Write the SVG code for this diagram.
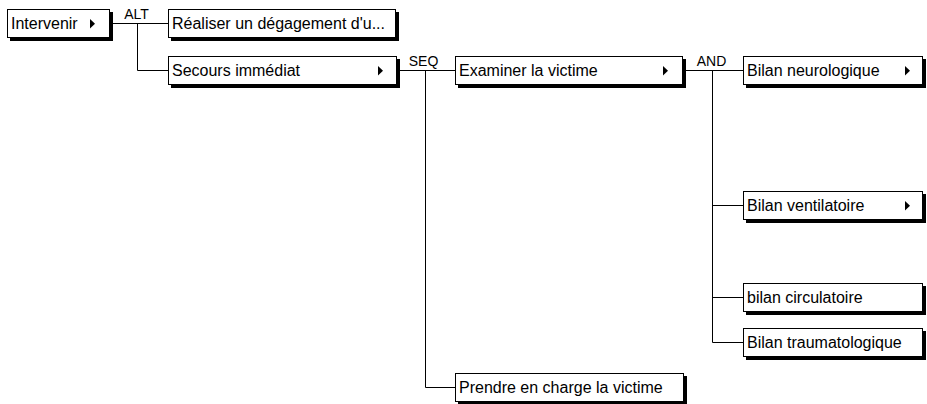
<svg xmlns="http://www.w3.org/2000/svg" width="927" height="404" viewBox="0 0 927 404">
<style>
.sh{fill:#000}
.bx{fill:#fff;stroke:#000;stroke-width:1}
.t{font-family:"Liberation Sans",Arial,sans-serif;font-size:16px;fill:#000}
.lb{font-family:"Liberation Sans",Arial,sans-serif;font-size:14px;fill:#000;text-anchor:middle}
.ln{fill:none;stroke:#000;stroke-width:1}
.ar{fill:#000}
</style>
<rect width="927" height="404" fill="#fff"/>
<g id="connectors">
<path class="ln" d="M109 23.5H168.5M137.5 23.5V70.5H168.5"/>
<path class="ln" d="M396 70.5H455.5M425.5 70.5V387.5H455.5"/>
<path class="ln" d="M682 70.5H743.5M712.5 70.5V342.5H743.5M712.5 205.5H743.5M712.5 297.5H743.5"/>
<text class="lb" x="136.5" y="19">ALT</text>
<text class="lb" x="423.5" y="66">SEQ</text>
<text class="lb" x="711.5" y="66">AND</text>
</g>
<g id="n1">
<rect class="sh" x="10" y="12" width="103" height="29"/>
<rect class="bx" x="7.5" y="9.5" width="102" height="28"/>
<text class="t" x="11" y="29">Intervenir</text>
<path class="ar" d="M90 19V28.5L95 23.75Z"/>
</g>
<g id="n2">
<rect class="sh" x="171" y="12" width="228" height="29"/>
<rect class="bx" x="168.5" y="9.5" width="227" height="28"/>
<text class="t" x="172" y="29">Réaliser un dégagement d'u...</text>
</g>
<g id="n3">
<rect class="sh" x="171" y="59" width="229" height="29"/>
<rect class="bx" x="168.5" y="56.5" width="228" height="28"/>
<text class="t" x="172" y="76">Secours immédiat</text>
<path class="ar" d="M378 66V75.5L383 70.75Z"/>
</g>
<g id="n4">
<rect class="sh" x="458" y="59" width="228" height="29"/>
<rect class="bx" x="455.5" y="56.5" width="227" height="28"/>
<text class="t" x="459" y="76">Examiner la victime</text>
<path class="ar" d="M663 66V75.5L668 70.75Z"/>
</g>
<g id="n5">
<rect class="sh" x="746" y="59" width="180" height="29"/>
<rect class="bx" x="743.5" y="56.5" width="179" height="28"/>
<text class="t" x="747" y="76">Bilan neurologique</text>
<path class="ar" d="M905 66V75.5L910 70.75Z"/>
</g>
<g id="n6">
<rect class="sh" x="746" y="194" width="180" height="29"/>
<rect class="bx" x="743.5" y="191.5" width="179" height="28"/>
<text class="t" x="747" y="211">Bilan ventilatoire</text>
<path class="ar" d="M905 201V210.5L910 205.75Z"/>
</g>
<g id="n7">
<rect class="sh" x="746" y="286" width="180" height="29"/>
<rect class="bx" x="743.5" y="283.5" width="179" height="28"/>
<text class="t" x="747" y="303">bilan circulatoire</text>
</g>
<g id="n8">
<rect class="sh" x="746" y="331" width="180" height="29"/>
<rect class="bx" x="743.5" y="328.5" width="179" height="28"/>
<text class="t" x="747" y="348">Bilan traumatologique</text>
</g>
<g id="n9">
<rect class="sh" x="458" y="376" width="229" height="29"/>
<rect class="bx" x="455.5" y="373.5" width="228" height="28"/>
<text class="t" x="459" y="393">Prendre en charge la victime</text>
</g>
</svg>
